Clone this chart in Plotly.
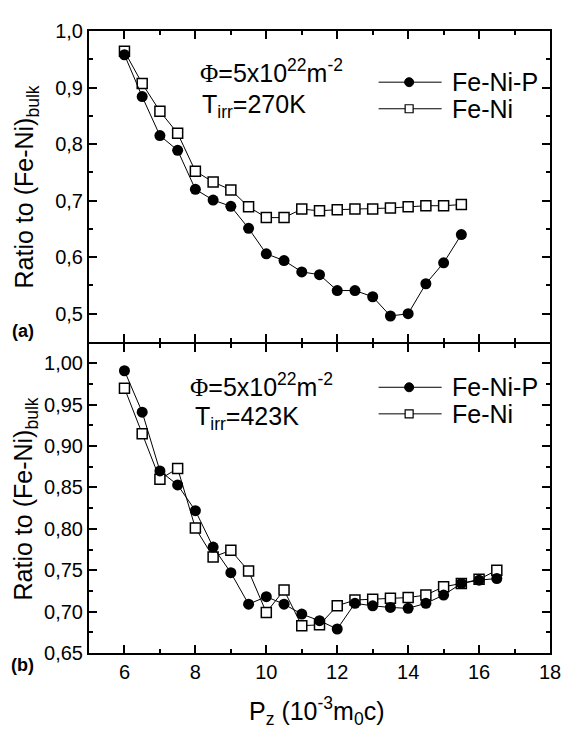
import plotly.graph_objects as go
from plotly.subplots import make_subplots

# ---------------- data ----------------
pz_a = [6, 6.5, 7, 7.5, 8, 8.5, 9, 9.5, 10, 10.5, 11, 11.5, 12, 12.5, 13, 13.5, 14, 14.5, 15, 15.5]
feni_p_a = [0.958, 0.884, 0.815, 0.789, 0.720, 0.701, 0.690, 0.651, 0.606, 0.594,
            0.574, 0.569, 0.541, 0.541, 0.530, 0.496, 0.500, 0.553, 0.590, 0.640]
feni_a = [0.964, 0.907, 0.858, 0.819, 0.752, 0.733, 0.719, 0.689, 0.670, 0.670,
          0.685, 0.682, 0.684, 0.685, 0.685, 0.687, 0.689, 0.691, 0.691, 0.693]

pz_b = [6, 6.5, 7, 7.5, 8, 8.5, 9, 9.5, 10, 10.5, 11, 11.5, 12, 12.5, 13, 13.5, 14, 14.5, 15, 15.5, 16, 16.5]
feni_p_b = [0.991, 0.941, 0.870, 0.853, 0.822, 0.778, 0.747, 0.709, 0.718, 0.709, 0.697,
            0.689, 0.679, 0.710, 0.707, 0.705, 0.704, 0.710, 0.720, 0.734, 0.738, 0.740]
feni_b = [0.970, 0.915, 0.860, 0.873, 0.801, 0.766, 0.774, 0.749, 0.699, 0.726, 0.683,
          0.684, 0.707, 0.714, 0.715, 0.716, 0.717, 0.720, 0.730, 0.734, 0.739, 0.750]

series_names = ["Fe-Ni-P", "Fe-Ni"]
panel_labels = ["(a)", "(b)"]
temps = ["270K", "423K"]

FONT = "Liberation Sans, Arial, sans-serif"

# page body has an 8px default margin; the figure is sized so that its plot area
# lands on the reference's pixel positions in the 573x729 window
OFF = 8
PLOT_TOP, PLOT_BOTTOM = 21, 653   # screen px
PLOT_LEFT, PLOT_RIGHT = 89, 557   # screen px
W, H = 573 - OFF, 729 - OFF
PH = PLOT_BOTTOM - PLOT_TOP
PW = PLOT_RIGHT - PLOT_LEFT

fig = make_subplots(rows=2, cols=1, shared_xaxes=False, vertical_spacing=0.0)

def add_panel(row, x, yp, yn):
    fig.add_trace(go.Scatter(x=x, y=yn, mode="lines+markers", name=series_names[1],
                             line=dict(color="black", width=1),
                             marker=dict(symbol="square", size=10, color="white",
                                         line=dict(color="black", width=1.5)),
                             showlegend=False), row=row, col=1)
    fig.add_trace(go.Scatter(x=x, y=yp, mode="lines+markers", name=series_names[0],
                             line=dict(color="black", width=1),
                             marker=dict(symbol="circle", size=11, color="black"),
                             showlegend=False), row=row, col=1)

add_panel(1, pz_a, feni_p_a, feni_a)
add_panel(2, pz_b, feni_p_b, feni_b)

axis_common = dict(showline=True, linecolor="black", linewidth=2, mirror="ticks",
                   ticks="inside", ticklen=8, tickwidth=1.5, tickcolor="black",
                   showgrid=False, zeroline=False,
                   tickfont=dict(family=FONT, size=20, color="black"))

fig.update_xaxes(range=[5, 18], tick0=6, dtick=2,
                 minor=dict(dtick=1, tick0=5, ticks="inside", ticklen=4, tickwidth=1.5, tickcolor="black"),
                 **axis_common)
fig.update_xaxes(showticklabels=False, row=1, col=1)

gap = 2.0 / PH
bottom_top = 0.5 - gap
fig.update_yaxes(range=[0.45, 1.0], tick0=0.5, dtick=0.1, tickformat=".1f",
                 minor=dict(dtick=0.05, tick0=0.45, ticks="inside", ticklen=4, tickwidth=1.5, tickcolor="black"),
                 row=1, col=1, **axis_common)
fig.update_yaxes(range=[0.65, 0.65 + (PH * bottom_top) / 841.0], tick0=0.65, dtick=0.05, tickformat=".2f",
                 minor=dict(dtick=0.025, tick0=0.65, ticks="inside", ticklen=4, tickwidth=1.5, tickcolor="black"),
                 row=2, col=1, **axis_common)

fig.update_layout(yaxis=dict(domain=[0.5, 1.0]), yaxis2=dict(domain=[0.0, bottom_top]))

def px_x(p):
    return (p - PLOT_LEFT) / PW

def px_y(p):
    return (PLOT_BOTTOM - p) / PH

annotations = []
shapes = []

# y axis titles
for yref in ["y domain", "y2 domain"]:
    annotations.append(dict(text="Ratio to (Fe-Ni)<sub>bulk</sub>", xref="paper", yref=yref,
                            x=px_x(25), y=0.5, textangle=-90, showarrow=False,
                            xanchor="center", yanchor="middle",
                            font=dict(family=FONT, size=25, color="black")))
# x title
annotations.append(dict(text="P<sub>z</sub> (10<sup>-3</sup>m<sub>0</sub>c)", xref="paper", yref="paper",
                        x=px_x(320), y=px_y(712), showarrow=False, xanchor="center", yanchor="middle",
                        font=dict(family=FONT, size=25, color="black")))

# panel labels
annotations.append(dict(text="<b>(a)</b>", xref="paper", yref="paper", x=px_x(22), y=px_y(326),
                        showarrow=False, xanchor="center", yanchor="middle",
                        font=dict(family=FONT, size=18, color="black")))
annotations.append(dict(text="<b>(b)</b>", xref="paper", yref="paper", x=px_x(21), y=px_y(665),
                        showarrow=False, xanchor="center", yanchor="middle",
                        font=dict(family=FONT, size=18, color="black")))

phi = '<span style="font-family:Liberation Serif">Φ</span>=5x10<sup>22</sup>m<sup>-2</sup>'
# condition annotations
cond = [(200, 62, 201.7, 97), (190, 381, 195, 414)]
for i, (x1, y1, x2, y2) in enumerate(cond):
    annotations.append(dict(text=phi, xref="paper", yref="paper", x=px_x(x1), y=px_y(y1),
                            showarrow=False, xanchor="left", yanchor="middle",
                            font=dict(family=FONT, size=25, color="black")))
    annotations.append(dict(text="T<sub>irr</sub>=" + temps[i], xref="paper", yref="paper",
                            x=px_x(x2), y=px_y(y2), showarrow=False, xanchor="left", yanchor="middle",
                            font=dict(family=FONT, size=25, color="black")))

# manual legends
legend_rows = [(73, 100), (383, 410)]
for r1, r2 in legend_rows:
    for k, ry in enumerate([r1, r2]):
        yy = px_y(ry)
        shapes.append(dict(type="line", xref="paper", yref="paper", x0=px_x(383), x1=px_x(447),
                           y0=yy, y1=yy, line=dict(color="black", width=1)))
        if k == 0:
            shapes.append(dict(type="circle", xref="paper", yref="paper", xsizemode="pixel", ysizemode="pixel",
                               xanchor=px_x(414), yanchor=yy, x0=-4.5, x1=4.5, y0=-4.5, y1=4.5,
                               fillcolor="black", line=dict(color="black", width=1)))
        else:
            shapes.append(dict(type="rect", xref="paper", yref="paper", xsizemode="pixel", ysizemode="pixel",
                               xanchor=px_x(414), yanchor=yy, x0=-4, x1=4, y0=-4, y1=4,
                               fillcolor="white", line=dict(color="black", width=1.2)))
        annotations.append(dict(text=series_names[k], xref="paper", yref="paper", x=px_x(455), y=yy,
                                showarrow=False, xanchor="left", yanchor="middle",
                                font=dict(family=FONT, size=25, color="black")))

fig.update_layout(
    width=W, height=H,
    margin=dict(l=PLOT_LEFT - OFF, r=W - (PLOT_RIGHT - OFF), t=PLOT_TOP - OFF, b=H - (PLOT_BOTTOM - OFF)),
    paper_bgcolor="white", plot_bgcolor="white",
    separators=",.",
    showlegend=False,
    annotations=annotations, shapes=shapes,
    font=dict(family=FONT, color="black"),
)

fig.write_html("out.html")
